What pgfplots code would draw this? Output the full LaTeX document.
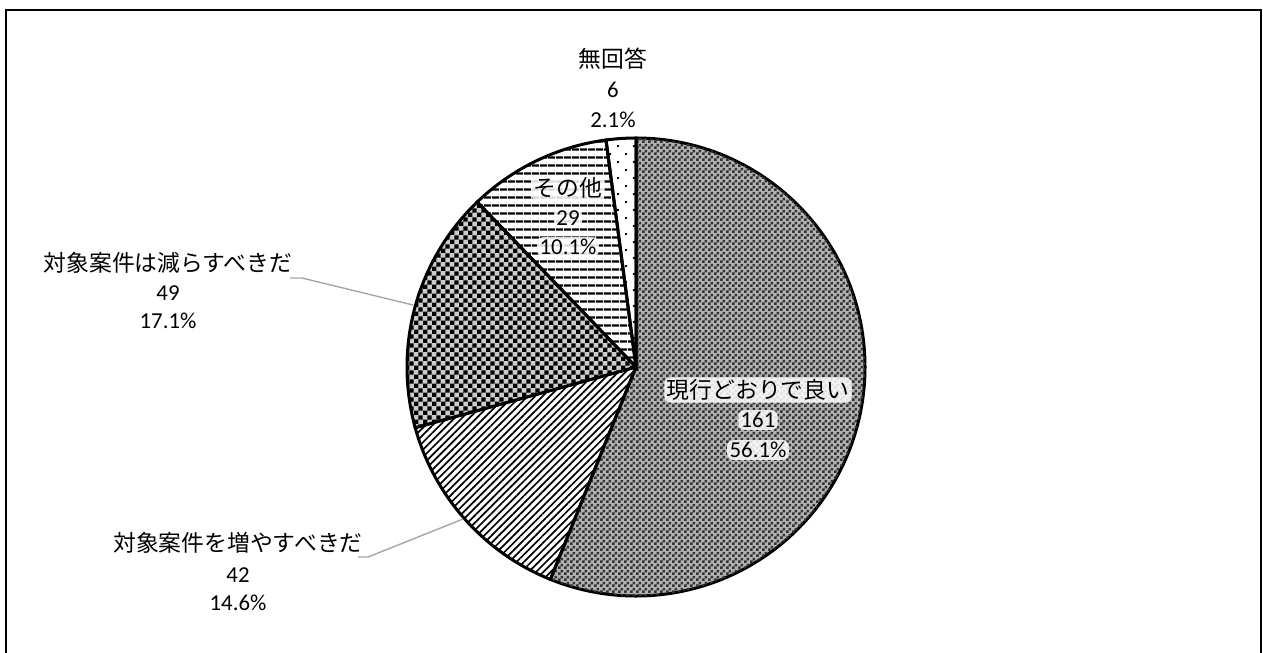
\documentclass[border=0pt]{standalone}
\usepackage{pgfplots}
\pgfplotsset{compat=1.18}
\usepackage{pgfplotstable}
\usetikzlibrary{patterns,patterns.meta}
\usepackage{fontspec}
\setmainfont{Carlito}
\newfontfamily\jp{Noto Sans CJK JP}

\tikzset{halo/.style={fill=white, fill opacity=0.85, text opacity=1, rounded corners=3pt, inner xsep=1.2pt, inner ysep=1pt}}

% checker patterns
\pgfdeclarepatternformonly{finecheck}{\pgfpointorigin}{\pgfqpoint{3pt}{3pt}}{\pgfqpoint{3pt}{3pt}}{%
  \pgfpathrectangle{\pgfpointorigin}{\pgfqpoint{1.5pt}{1.5pt}}%
  \pgfpathrectangle{\pgfqpoint{1.5pt}{1.5pt}}{\pgfqpoint{1.5pt}{1.5pt}}%
  \pgfusepath{fill}}
\pgfdeclarepatternformonly{coarsecheck}{\pgfpointorigin}{\pgfqpoint{4.4pt}{4.4pt}}{\pgfqpoint{4.4pt}{4.4pt}}{%
  \pgfpathrectangle{\pgfpointorigin}{\pgfqpoint{2.2pt}{2.2pt}}%
  \pgfpathrectangle{\pgfqpoint{2.2pt}{2.2pt}}{\pgfqpoint{2.2pt}{2.2pt}}%
  \pgfusepath{fill}}
\pgfdeclarepatternformonly{sparsedots}{\pgfqpoint{-1pt}{-1pt}}{\pgfqpoint{8pt}{8pt}}{\pgfqpoint{8pt}{8pt}}{%
  \pgfpathcircle{\pgfqpoint{1pt}{1pt}}{0.65pt}%
  \pgfpathcircle{\pgfqpoint{5pt}{5pt}}{0.65pt}%
  \pgfusepath{fill}}

% answers, clockwise from 12 o'clock
\pgfplotstableread{
id n
0 161
1 42
2 49
3 29
4 6
}\piedata

\newcommand\pieslice[2]{%
  \draw[line width=1.5pt, #2] (axis cs:636,367) -- ++(\csname sa#1\endcsname:114.5pt)
    arc[start angle=\csname sa#1\endcsname, end angle=\csname ea#1\endcsname, radius=114.5pt] -- cycle;}

\begin{document}
\fontsize{11.4}{14}\selectfont
\begin{tikzpicture}
% cumulative angles
\def\total{0}
\foreach \i in {0,...,4}{
  \pgfplotstablegetelem{\i}{n}\of\piedata
  \pgfmathsetmacro\t{\total+\pgfplotsretval}
  \xdef\total{\t}
}
\def\cum{0}
\foreach \i in {0,...,4}{
  \pgfplotstablegetelem{\i}{n}\of\piedata
  \pgfmathsetmacro\a{90-\cum/\total*360}
  \pgfmathsetmacro\c{\cum+\pgfplotsretval}
  \pgfmathsetmacro\b{90-\c/\total*360}
  \expandafter\xdef\csname sa\i\endcsname{\a}
  \expandafter\xdef\csname ea\i\endcsname{\b}
  \xdef\cum{\c}
}
\begin{axis}[
  scale only axis,
  width=631.5pt, height=326pt,
  xmin=0, xmax=1263, ymin=0, ymax=652,
  y dir=reverse,
  axis lines=none,
  every node/.append style={inner sep=0pt, font=\fontsize{11.4}{14}\selectfont},
]
\addplot[draw=none] coordinates {(0,0) (1263,652)};
% frame
\draw[line width=1pt] (axis cs:6,660) -- (axis cs:6,10) -- (axis cs:1261,10) -- (axis cs:1261,660);

\pieslice{0}{fill=black!30, postaction={pattern=finecheck, pattern color=black!80}}
\pieslice{1}{pattern={Lines[angle=45, distance=2.6pt, line width=0.85pt]}}
\pieslice{2}{fill=black!20, postaction={pattern=coarsecheck, pattern color=black}}
\pieslice{3}{pattern={Lines[angle=0, distance=4pt, line width=1.3pt]}}
\pieslice{4}{pattern=sparsedots, pattern color=black}

% leader lines
\draw[gray!70, line width=0.7pt] (axis cs:290,278) -- (axis cs:302,278) -- (axis cs:413,305);
\draw[gray!70, line width=0.7pt] (axis cs:358,557) -- (axis cs:368,557) -- (axis cs:463,519);

% labels
\node at (axis cs:613,59) {\jp 無回答};
\node at (axis cs:613,90) {6};
\node at (axis cs:613,120) {2.1\%};

\node[halo] at (axis cs:568,188) {\jp その他};
\node[halo] at (axis cs:568,218) {29};
\node[halo] at (axis cs:568,247) {10.1\%};

\node[halo] at (axis cs:758,390) {\jp 現行どおりで良い};
\node[halo] at (axis cs:758,420) {161};
\node[halo] at (axis cs:758,450) {56.1\%};

\node at (axis cs:168,263) {\jp 対象案件は減らすべきだ};
\node at (axis cs:168,293) {49};
\node at (axis cs:168,321) {17.1\%};

\node at (axis cs:238,543) {\jp 対象案件を増やすべきだ};
\node at (axis cs:238,575) {42};
\node at (axis cs:238,603) {14.6\%};
\end{axis}
\end{tikzpicture}
\end{document}
